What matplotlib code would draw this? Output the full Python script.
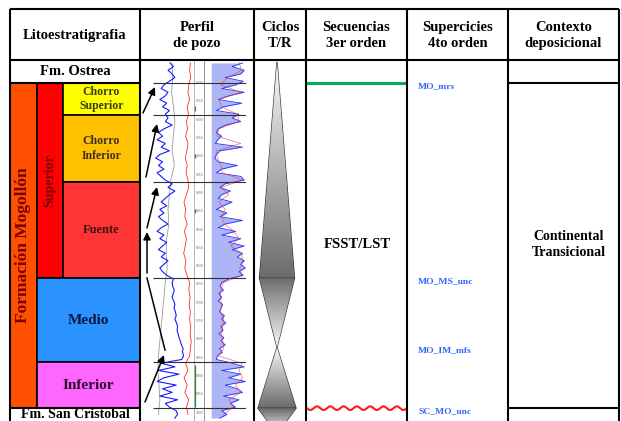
import numpy as np
import matplotlib
matplotlib.use("Agg")
import matplotlib.pyplot as plt
from matplotlib.patches import Polygon, Rectangle

plt.rcParams['font.family'] = ['Liberation Serif', 'DejaVu Serif']
plt.rcParams['font.weight'] = 'bold'

# ---------------- data ----------------
headers = ["Litoestratigrafia", "Perfil\nde pozo", "Ciclos\nT/R",
           "Secuencias\n3er orden", "Supercicies\n4to orden", "Contexto\ndeposicional"]

formation_name = "Formación Mogollón"
formation_top, formation_base = 6100, 6988
subunit_name = "Superior"
subunit_top, subunit_base = 6100, 6633
members = ["Chorro\nSuperior", "Chorro\nInferior", "Fuente", "Medio", "Inferior"]
member_tops = [6100, 6187, 6370, 6633, 6862]
member_bases = [6187, 6370, 6633, 6862, 6988]
overlying_unit = "Fm. Ostrea"
underlying_unit = "Fm. San Cristobal"

surfaces = ["MO_mrs", "MO_MS_unc", "MO_IM_mfs", "SC_MO_unc"]
surface_depths = [6100, 6633, 6822, 6988]
sequence_label = "FSST/LST"
context_label = "Continental\nTransicional"

# T/R cycle turning points (depth) and relative amplitude at each
tr_depths = [6042, 6633, 6822, 6988, 7058]
tr_amplitude = [0.0, 17.5, 0.0, 19.0, 0.0]

# well-log tops picked on the log
log_tops = [6100, 6187, 6370, 6633, 6862, 6988]

# gamma ray (API), 10 ft sampling
gr_depth = np.arange(6045, 7016, 10)
gr = [62, 75, 55, 70, 80, 60,
      40, 30, 55, 45, 25, 50, 35, 60, 45,
      55, 45, 70, 40, 20, 35, 15, 45, 30, 60, 25, 10, 35, 20, 40, 15, 30, 45,
      70, 55, 80, 60, 45, 30, 50, 25, 40, 20, 35, 55, 30, 15, 40, 25, 50, 35, 20,
      45, 30, 55, 40, 25, 35, 50,
      75, 70, 72, 78, 74, 70, 76, 80, 77, 82, 85, 80, 86, 90, 88, 92, 95, 100,
      104, 110, 108, 112, 105,
      30, 80, 20, 95, 40, 15, 85, 35, 70, 25, 90, 45, 60,
      85, 90, 80]

# shallow resistivity (shaded), 10 ft sampling
res_shallow = [90, 60, 95, 85, 40, 92,
               70, 30, 95, 50, 20, 88, 35, 15, 80,
               60, 85, 40, 20, 15, 30, 18, 12, 90, 25, 15, 10, 20, 75, 30, 15, 85, 95,
               40, 25, 55, 30, 20, 60, 35, 15, 45, 25, 90, 40, 20, 70, 30, 85, 50, 95,
               60, 90, 75, 95, 85, 98, 80, 92,
               50, 30, 25, 35, 22, 30, 20, 33, 28, 24, 38, 30, 42, 28, 34, 22, 36, 28,
               40, 24, 32, 18, 15,
               60, 95, 30, 85, 50, 98, 40, 75, 90, 35, 80, 55, 70,
               30, 45, 25]

# density (g/cc) and deep resistivity, 20 ft sampling
coarse_depth = np.arange(6045, 7006, 20)
rhob = [2.60, 2.55, 2.62,
        2.50, 2.45, 2.55, 2.40, 2.48,
        2.35, 2.42, 2.30, 2.45, 2.38, 2.28, 2.40, 2.33, 2.45,
        2.50, 2.35, 2.20, 2.30, 2.25, 2.40, 2.22, 2.35, 2.28, 2.18, 2.32, 2.25, 2.38,
        2.55, 2.50, 2.58, 2.52, 2.60, 2.55, 2.62, 2.58, 2.65, 2.60, 2.55,
        2.30, 2.45, 2.20, 2.40, 2.25, 2.50, 2.35,
        2.45]
res_deep = [80, 88, 45,
            28, 85, 22, 30, 75,
            80, 22, 16, 85, 14, 18, 28, 32, 90,
            28, 50, 22, 40, 30, 38, 65, 80, 55, 88, 90, 82, 88,
            35, 28, 26, 30, 26, 36, 32, 30, 34, 36, 20,
            88, 80, 90, 70, 85, 50, 65,
            35]

# caliper-like smooth trace, 40 ft sampling
cal_depth = np.arange(6045, 7006, 40)
cal = [70, 72, 68, 75, 80, 74, 70, 78, 65, 60, 55, 58, 50, 48, 52, 45, 40, 35,
       30, 25, 20, 18, 22, 25, 20]

depth_ticks = np.arange(6100, 7001, 50)
core_intervals = [(6163, 6175), (6295, 6305), (6445, 6455), (6870, 6985)]

# ---------------- layout ----------------
W, H = 621, 421
TABLE_TOP, HEADER_BOTTOM = 9, 60
DEPTH_TOP, DEPTH_BOTTOM = 6037.0, 7023.0
col_edges = [10, 140, 254, 306, 407, 508, 619]
LW = 1.5

fig = plt.figure(figsize=(W / 100, H / 100), dpi=100)

frame = fig.add_axes([0, 0, 1, 1], zorder=5)
frame.set_xlim(0, W)
frame.set_ylim(H, 0)
frame.axis('off')
frame.patch.set_alpha(0)


def strip(x0, x1, xlim, z=1):
    """Axes covering pixel columns x0..x1 below the header, y in depth (ft)."""
    a = fig.add_axes([x0 / W, 0, (x1 - x0) / W, (H - HEADER_BOTTOM) / H], zorder=z)
    a.set_xlim(*xlim)
    a.set_ylim(DEPTH_BOTTOM, DEPTH_TOP)
    a.axis('off')
    a.patch.set_alpha(0)
    return a


body = strip(0, W, (0, W))

# ---- header and table frame ----
frame.hlines([TABLE_TOP, HEADER_BOTTOM], col_edges[0], col_edges[-1], color='black', lw=LW)
frame.vlines(col_edges, TABLE_TOP, H, color='black', lw=LW)
for i, h in enumerate(headers):
    xc = (col_edges[i] + col_edges[i + 1]) / 2
    frame.text(xc, (TABLE_TOP + HEADER_BOTTOM) / 2 + 1, h, ha='center', va='center',
               fontsize=10.5, linespacing=1.35, color='black')

# ---- lithostratigraphy ----
body.add_patch(Rectangle((10, formation_top), 27, formation_base - formation_top,
                         facecolor='#ff4f00', edgecolor='black', lw=1.2))
body.text(23.5, (formation_top + formation_base) / 2, formation_name, rotation=90,
          ha='center', va='center', fontsize=12.5, color='#7a0000')
body.add_patch(Rectangle((37, subunit_top), 26, subunit_base - subunit_top,
                         facecolor='#ff0000', edgecolor='black', lw=1.2))
body.text(50, (subunit_top + subunit_base) / 2, subunit_name, rotation=90,
          ha='center', va='center', fontsize=10, color='#7a0000')

member_colors = ['#ffff00', '#ffc000', '#ff3535', '#2b93ff', '#ff66ff']
member_text = ['#3a3a1a', '#3a3020', '#3a1515', '#0b1638', '#2e0f2e']
member_size = [8.5, 8.5, 9, 11, 11]
for name, top, base, fc, tc, fs in zip(members, member_tops, member_bases,
                                       member_colors, member_text, member_size):
    x0 = 37 if top >= subunit_base else 63
    body.add_patch(Rectangle((x0, top), 140 - x0, base - top,
                             facecolor=fc, edgecolor='black', lw=1.2))
    body.text((x0 + 140) / 2, (top + base) / 2, name, ha='center', va='center',
              fontsize=fs, color=tc, linespacing=1.25)

body.hlines([formation_top, formation_base], 10, 140, color='black', lw=LW)
body.text(75, (DEPTH_TOP + formation_top) / 2, overlying_unit, ha='center',
          va='center', fontsize=10.5)
body.text(75, 7005, underlying_unit, ha='center', va='center', fontsize=10)

# ---- well log ----
gr_ax = strip(153, 194, (0, 150))
gr_ax.plot(cal, cal_depth, color='#9a9a9a', lw=0.6)
gr_ax.plot(gr, gr_depth, color='#1a1aff', lw=0.8)

rho_ax = strip(180, 196, (1.95, 2.95))
rho_ax.plot(rhob, coarse_depth, color='#ff2a2a', lw=0.6)

dep_ax = strip(194, 205, (0, 1))
dep_ax.axvline(0, color='#b5b5b5', lw=0.7)
dep_ax.axvline(1, color='#8a8a8a', lw=1.3)
for d in depth_ticks:
    dep_ax.text(0.5, d, str(d), ha='center', va='center', fontsize=2.2,
                color='#707070', family='DejaVu Sans', fontweight='normal')
for c0, c1 in core_intervals:
    dep_ax.vlines(0.12, c0, c1, color='#2e8b2e', lw=0.9)

res_ax = strip(206, 246, (-15, 100))
res_ax.fill_betweenx(gr_depth, 0, res_shallow, color='#aeb5f4', lw=0)
res_ax.plot(res_shallow, gr_depth, color='#2233ff', lw=0.6)
res_ax.plot(res_deep, coarse_depth, color='#ff3030', lw=0.45, alpha=0.8)

tops_ax = strip(153, 246, (0, 1))
tops_ax.hlines(log_tops, 0, 1, color='#303030', lw=0.8)

# cycle arrows beside the log
arrow_kw = dict(arrowstyle='-|>', color='black', lw=1.1, mutation_scale=11,
                shrinkA=0, shrinkB=0)
for tail, head in [((143, 113), (155, 87)), ((146, 177), (157, 124)),
                   ((147, 228), (157, 187)), ((147, 273), (147, 232)),
                   ((145, 402), (164, 355))]:
    frame.annotate('', xy=head, xytext=tail, arrowprops=arrow_kw)
frame.plot([147, 165], [278, 350], color='black', lw=1.1)

# ---- T/R cycles ----
XC = 277
for k in range(len(tr_depths) - 1):
    d0, d1 = tr_depths[k], tr_depths[k + 1]
    a0, a1 = tr_amplitude[k], tr_amplitude[k + 1]
    verts = [(XC - a0, d0), (XC + a0, d0), (XC + a1, d1), (XC - a1, d1)]
    poly = Polygon(verts, closed=True, facecolor='none', edgecolor='#303030', lw=0.9)
    body.add_patch(poly)
    light, dark = 0.97, 0.42
    g0 = light if a0 < a1 else dark
    g1 = dark if a0 < a1 else light
    grad = np.linspace(g0, g1, 200).reshape(-1, 1)
    amax = max(a0, a1)
    im = body.imshow(grad, cmap='gray', vmin=0, vmax=1, aspect='auto',
                     extent=(XC - amax, XC + amax, d1, d0), origin='upper',
                     interpolation='bilinear', zorder=1)
    im.set_clip_path(poly)

# ---- sequences and surfaces ----
body.hlines(surface_depths[0], 306, 407, color='#00b050', lw=2.2)


def unconformity(ax, x0, x1, depth, amp=5.0, wavelength=13.3):
    xs = np.linspace(x0, x1, 400)
    ax.plot(xs, depth + amp * np.sin(2 * np.pi * (xs - x0) / wavelength),
            color='#ff1a1a', lw=1.5)


unconformity(body, 307, 406, surface_depths[-1])
body.text(357, 6542, sequence_label, ha='center', va='center', fontsize=10.5)

for name, d in zip(surfaces, surface_depths):
    body.annotate(name, xy=(418, d), xytext=(0, -2), textcoords='offset points',
                  ha='left', va='center', fontsize=6.8, color='#3366ff')

# ---- depositional context ----
body.hlines([formation_top, formation_base], 508, 619, color='black', lw=LW)
body.text(569, 6540, context_label, ha='center', va='center', fontsize=10,
          linespacing=1.3)

fig.savefig('out.png', dpi=100)
